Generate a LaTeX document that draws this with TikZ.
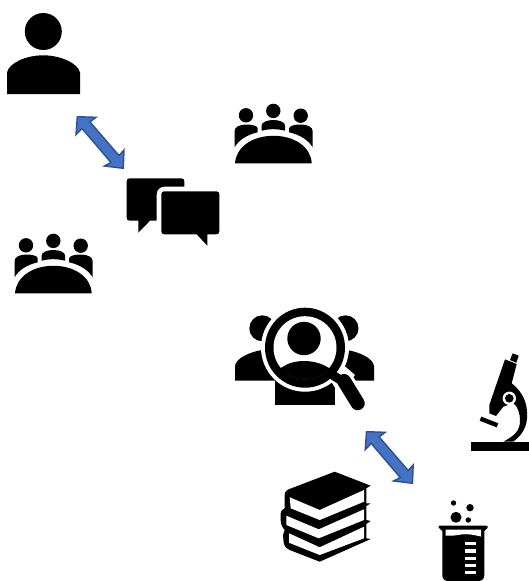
\documentclass[tikz,border=0pt]{standalone}
\definecolor{arrowfill}{HTML}{4472C4}
\definecolor{arrowline}{HTML}{2F528F}
\tikzset{ink/.style={fill=black,draw=none},paper/.style={fill=white,draw=none},
 blockarrow/.style={fill=arrowfill,draw=arrowline,line width=1.4pt,line join=miter}}
\newcommand{\crowd}[2]{\begin{scope}[shift={(#1,#2)}]
 \fill[ink] (11,-48) circle (7.2); \fill[ink] (38.3,-52.4) circle (7.2); \fill[ink] (65.7,-47.6) circle (7.2);
 \fill[ink] (-0.5,-16) -- (-0.5,-32) .. controls (-0.5,-36.5) and (5,-38.8) .. (11,-38.8) .. controls (17,-38.8) and (22.7,-37.5) .. (22.7,-35) -- (22.7,-31) .. controls (12,-28.5) and (4,-23.5) .. (-0.5,-16) -- cycle;
 \fill[ink] (26.5,-32.6) -- (26.5,-37.5) .. controls (26.5,-41) and (32,-43.3) .. (38.3,-43.3) .. controls (44.6,-43.3) and (50.2,-41) .. (50.2,-37.5) -- (50.2,-32.6) .. controls (42,-34.6) and (34,-34.6) .. (26.5,-32.6) -- cycle;
 \fill[ink] (77.7,-16) -- (77.7,-32) .. controls (77.7,-36.5) and (72,-38.8) .. (66,-38.8) .. controls (60,-38.8) and (54.2,-37.5) .. (54.2,-35) -- (54.2,-31) .. controls (65,-28.5) and (73,-23.5) .. (77.7,-16) -- cycle;
 \fill[ink] (0,0) .. controls (1,-16) and (17,-27.5) .. (38.3,-27.5) .. controls (60,-27.5) and (76,-16) .. (76.7,0) -- cycle;
\end{scope}}
\begin{document}
\begin{tikzpicture}[x=1pt,y=-1pt]
\useasboundingbox (0,0) rectangle (529,581);
% person
\fill[ink] (43.3,31.5) circle (18.5);
\fill[ink] (7,94) -- (7,72.5) .. controls (9,63) and (26,55.3) .. (43.3,55.3) .. controls (60,55.3) and (78,63) .. (80,72.5) -- (80,94) -- cycle;
% arrows
\draw[blockarrow] (77.3,116.7) -- (96,117.3) -- (90,122) -- (119,155.5) -- (124,150) -- (123.3,168.3) -- (104.3,166) -- (111,162.5) -- (82,128.5) -- (76,134.7) -- cycle;
\begin{scope}[shift={(289.2,315)}]
\draw[blockarrow] (77.3,116.7) -- (96,117.3) -- (90,122) -- (119,155.5) -- (124,150) -- (123.3,168.3) -- (104.3,166) -- (111,162.5) -- (82,128.5) -- (76,134.7) -- cycle;
\end{scope}
% crowds
\crowd{235}{163.3}
\crowd{15}{293.3}
% chat bubbles
\fill[ink] (129.7,178.3) -- (181.3,178.3) .. controls (183.3,178.3) and (184.3,179.5) .. (184.3,181.3) -- (184.3,186.7) -- (164,186.7) .. controls (160,186.7) and (156.7,190) .. (156.7,194) -- (156.7,220.7) -- (150,220.7) -- (138.3,232.7) -- (138.3,220.7) -- (129.7,220.7) .. controls (127.7,220.7) and (126.7,219.5) .. (126.7,217.7) -- (126.7,181.3) .. controls (126.7,179.5) and (127.7,178.3) .. (129.7,178.3) -- cycle;
\fill[ink] (164.3,191.3) -- (216.3,191.3) .. controls (218.3,191.3) and (219.3,192.5) .. (219.3,194.3) -- (219.3,231.3) .. controls (219.3,233.3) and (218.3,234.3) .. (216.3,234.3) -- (207.3,234.3) -- (207.3,245.7) -- (196.7,234.3) -- (164.3,234.3) .. controls (162.3,234.3) and (161.3,233.3) .. (161.3,231.3) -- (161.3,194.3) .. controls (161.3,192.5) and (162.3,191.3) .. (164.3,191.3) -- cycle;
% magnifier over people
\fill[ink] (262.3,328.3) circle (13);
\fill[ink] (345.5,328.3) circle (13);
\fill[ink] (235,380.7) -- (235,366) .. controls (236,358) and (250,352) .. (262,350) -- (285,350) -- (285,380.7) -- cycle;
\fill[ink] (374,380.7) -- (374,366) .. controls (373,358) and (359,352) .. (347,350) -- (325,350) -- (325,380.7) -- cycle;
\fill[ink] (274.5,375) rectangle (335,405);
\fill[paper] (305,347.7) circle (44);
\draw[white,line width=21pt,line cap=round] (342,379) -- (357.7,403.3);
\fill[white] (325,372) -- (340,362) -- (355,375) -- (340,395) -- cycle;
\draw[black,line width=9pt] (331,374) -- (342,381);
\draw[black,line width=14pt,line cap=round] (344,381) -- (357.7,403.3);
\fill[ink] (305,347.7) circle (40);
\fill[paper] (305,347.7) circle (31.5);
\fill[ink] (304,338.5) circle (16.7);
\begin{scope}
\clip (305,347.7) circle (31.8);
\fill[ink] (270,385) -- (270,372) -- (281.7,367.5) .. controls (288,363) and (296,361) .. (304,361) .. controls (312,361) and (321,363) .. (328,367.5) -- (340,372) -- (340,385) -- cycle;
\end{scope}
% microscope
\fill[ink] (471,441.7) rectangle (529,450.7);
\fill[ink] (512.7,353.3) -- (518.7,355.7) -- (516.3,362.7) -- (510,360) -- cycle;
\fill[ink] (505,359.3) -- (516.7,364) -- (511.7,383.3) .. controls (520,390) and (525,398) .. (526.5,407) .. controls (529,422) and (525,433) .. (513.3,441.7) -- (503.3,441.7) .. controls (514,436) and (520,431) .. (520,421) .. controls (520,413) and (518,407) .. (513.3,403) -- (503.3,406.7) -- (496,416) -- (489.3,413.3) -- (489.3,405) -- cycle;
\fill[white] (509.3,398.3) circle (6.7);
\fill[ink] (509.3,398.3) circle (4.3);
\draw[black,line width=4.4pt] (480.5,418.7) -- (497.5,425.3);
% books
\fill[ink] (334.7,471.7) -- (370.7,485.7) -- (366.3,488.3) -- (366.3,503.3) -- (370.7,503.3) -- (366.3,506) -- (366.3,520) -- (370.7,521) -- (366.3,524) -- (366.3,538.3) -- (370.7,539) -- (319.7,561.7) -- (289.7,550) .. controls (285,548) and (284,545) .. (283.5,541) -- (283,535) -- (284.7,530) .. controls (282,527) and (280.7,524) .. (280.7,520) -- (280.7,513.3) .. controls (280.7,511) and (282,509.5) .. (284.7,508.3) -- (284.7,495) .. controls (284.7,491.5) and (287,489.5) .. (291.3,488.3) -- cycle;
\fill[paper] (289.7,497.3) -- (319.7,510) -- (364,490) -- (364,501.7) -- (319.7,520) -- (290.7,508.3) -- cycle;
\fill[paper] (286.3,515.7) -- (318.7,529.3) -- (364,509.3) -- (364,520) -- (318.7,538.3) -- (286.3,525) -- cycle;
\fill[paper] (289,533.3) -- (319.7,547.3) -- (364,526.7) -- (364,538.3) -- (319.7,555) -- (289,542.7) -- cycle;
% beaker
\fill[ink] (453.5,503) circle (2.7);
\fill[ink] (470,507.7) circle (3.7);
\fill[ink] (456,517.3) circle (5.5);
\fill[ink] (468.3,520) circle (2.7);
\fill[ink] (440,525.5) -- (486,525.5) .. controls (487.5,525.5) and (488,527) .. (487.5,528) -- (484.3,531) -- (484.3,575) .. controls (484.3,579) and (482,581) .. (478,581) -- (448.5,581) .. controls (444.5,581) and (442.3,579) .. (442.3,575) -- (442.3,531) -- (439,528) .. controls (438,527) and (438.5,525.5) .. (440,525.5) -- cycle;
\fill[paper] (445.7,529.5) -- (481,529.5) -- (481,536.5) .. controls (474,535) and (468,533.5) .. (461,534.5) .. controls (456,535.5) and (450,536) .. (445.7,535.5) -- cycle;
\foreach \gy in {541.7,549.3,556.7,564,571}{\fill[paper] (465,\gy) rectangle (475.7,\gy+3.3);}
\end{tikzpicture}
\end{document}
